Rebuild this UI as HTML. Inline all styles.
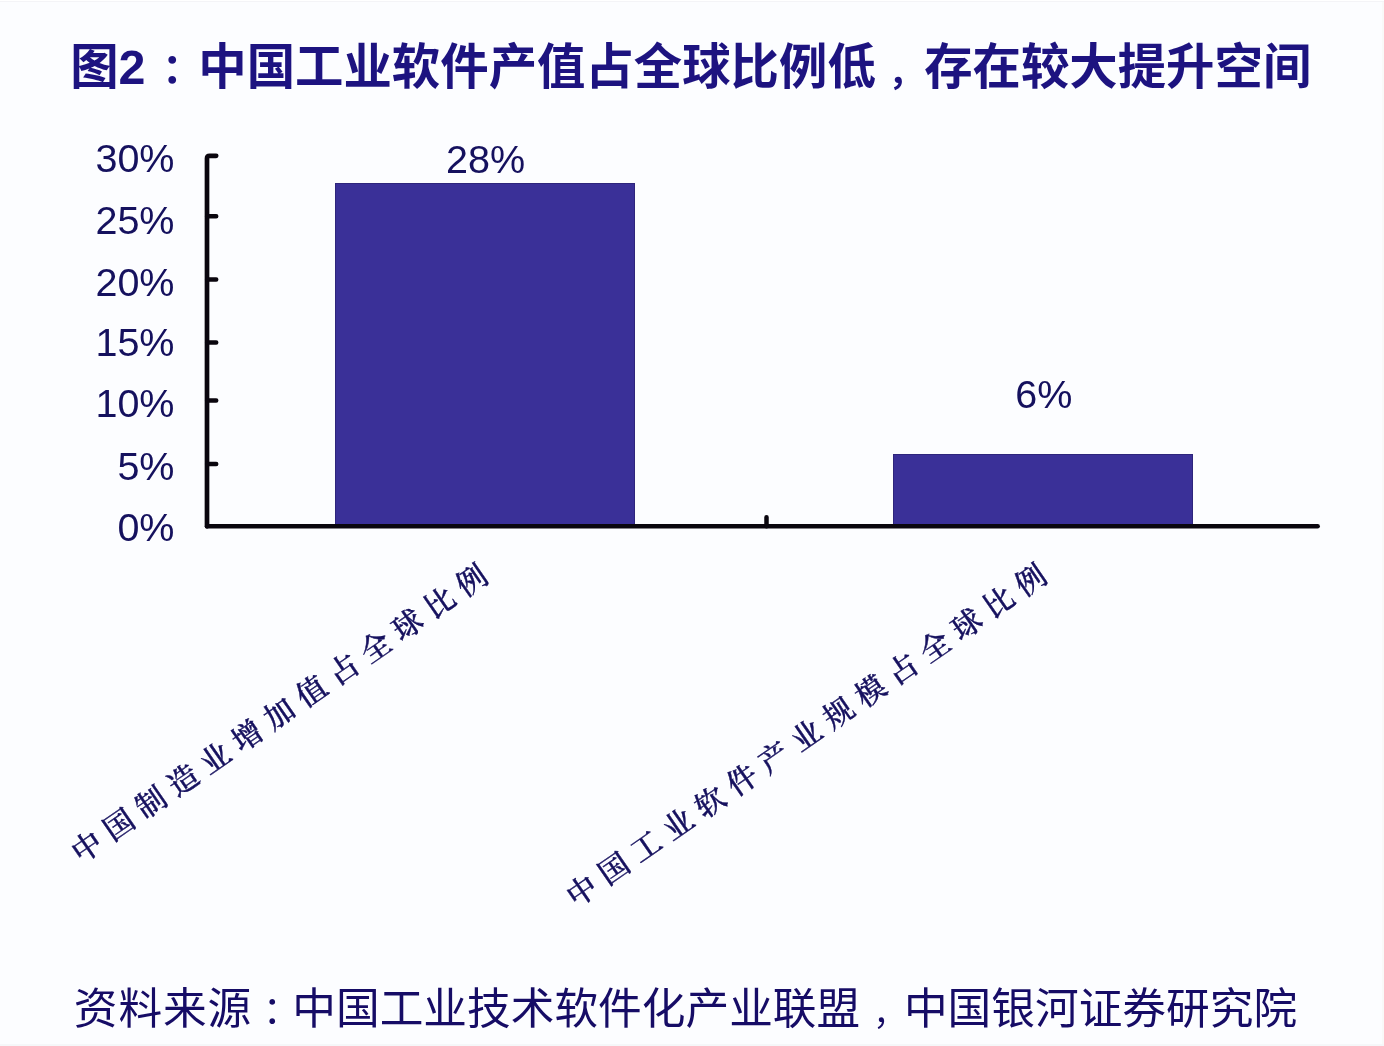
<!DOCTYPE html>
<html lang="zh-CN">
<head>
<meta charset="utf-8">
<title>图2：中国工业软件产值占全球比例低，存在较大提升空间</title>
<style>
html,body{margin:0;padding:0;}
body{width:1384px;height:1046px;position:relative;overflow:hidden;background:#fcfdff;
  font-family:"Liberation Sans","Noto Sans CJK SC",sans-serif;}
.abs{position:absolute;white-space:nowrap;}
.title{left:70.2px;top:32px;font-size:48.4px;line-height:70px;font-weight:700;color:#1d1380;}
.title .p{display:inline-block;position:relative;}
.ylab{font-size:39.5px;line-height:44px;color:#15115e;width:120px;text-align:right;left:54.5px;}
.dlab{font-size:39.5px;line-height:44px;color:#15115e;width:160px;text-align:center;}
.bar{position:absolute;background:#3a3098;box-shadow:inset 0 0 0 1px #2e257c;}
svg.ax{position:absolute;left:0;top:0;}
.rot{font-family:"Liberation Serif","Noto Serif CJK SC",serif;font-weight:500;font-size:30px;line-height:40px;color:#16115f;-webkit-text-stroke:0.45px #16115f;
  letter-spacing:9px;transform-origin:0 50%;transform:rotate(-34.7deg);}
.src .p{display:inline-block;position:relative;}
.src{left:73.8px;top:979.3px;font-size:43.7px;line-height:60px;color:#160c66;}
.edge{position:absolute;}
</style>
</head>
<body>
<div class="edge" style="left:0;top:0;width:1384px;height:1px;background:#fff"></div>
<div class="edge" style="left:0;top:1px;width:1384px;height:1px;background:#f4f4f7"></div>
<div class="edge" style="left:0;top:1044px;width:1384px;height:2px;background:#f5f7f9"></div>
<div class="edge" style="left:1382px;top:2px;width:2px;height:1042px;background:#f9f9f8"></div>
<div class="abs title">图2<span class="p" id="tc" style="width:52.8px;font-size:41px;left:16.5px;top:-1px">：</span>中国工业软件产值占全球比例低<span class="p" id="tm" style="width:48.4px;font-size:35px;left:12.5px;top:0.8px">，</span>存在较大提升空间</div>

<div class="abs ylab" style="top:136px">30%</div>
<div class="abs ylab" style="top:198px">25%</div>
<div class="abs ylab" style="top:260px">20%</div>
<div class="abs ylab" style="top:319.5px">15%</div>
<div class="abs ylab" style="top:381px">10%</div>
<div class="abs ylab" style="top:443.5px">5%</div>
<div class="abs ylab" style="top:505px">0%</div>

<div class="bar" style="left:335.3px;top:183.1px;width:300.2px;height:343px"></div>
<div class="bar" style="left:892.8px;top:454.3px;width:300.1px;height:72px"></div>

<svg class="ax" width="1384" height="1046" viewBox="0 0 1384 1046" fill="none" stroke="#0a060e" stroke-width="4.5" stroke-linecap="round" stroke-linejoin="round">
  <path d="M216.2 155.8H209.6Q207 155.8 207 158.3V526.3" stroke-width="4.7"/>
  <path d="M207.1 526.3H1317.6" stroke-width="4.6"/>
  <path d="M207.1 216.3H216.2M207.1 279.4H216.2M207.1 342.5H216.2M207.1 400.5H216.2M207.1 464H216.2M766.5 517.3V526.3"/>
</svg>

<div class="abs dlab" style="left:405.6px;top:137.3px">28%</div>
<div class="abs dlab" style="left:963.9px;top:371.7px">6%</div>

<div class="abs rot" style="left:75px;top:836px">中国制造业增加值占全球比例</div>
<div class="abs rot" style="left:569.8px;top:880px">中国工业软件产业规模占全球比例</div>

<div class="abs src"><span style="letter-spacing:0.9px">资料来源</span><span class="p" id="sc" style="width:40.1px;font-size:38px;left:10.5px;top:-1.8px">：</span>中国工业技术软件化产业联盟<span class="p" id="sm" style="width:43.7px;font-size:33px;left:13px;top:0.6px">，</span>中国银河证券研究院</div>
</body>
</html>
